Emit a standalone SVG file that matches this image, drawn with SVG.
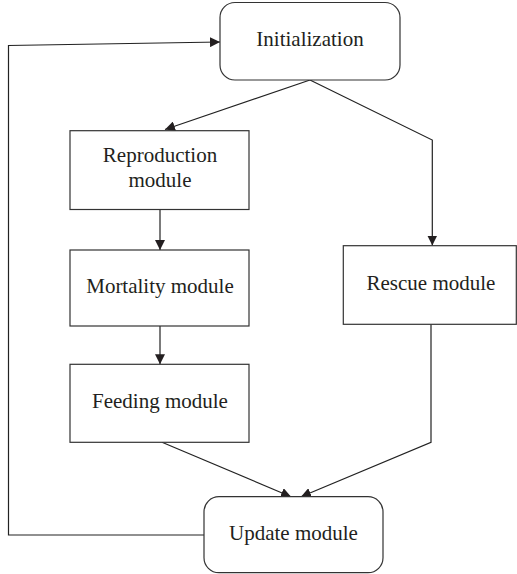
<svg xmlns="http://www.w3.org/2000/svg" width="517" height="574" viewBox="0 0 517 574">
<style>
.box{fill:#fff;stroke:#333;stroke-width:1.2}
.t{font-family:"Liberation Serif",serif;font-size:21px;fill:#231f20;text-anchor:middle}
.c{fill:none;stroke:#222;stroke-width:1.2}
</style>
<defs>
<marker id="ah" viewBox="0 0 10 10" refX="10" refY="5" markerWidth="10" markerHeight="10" markerUnits="userSpaceOnUse" orient="auto">
<path d="M0,0 L10,5 L0,10 Z" fill="#231f20"/>
</marker>
</defs>
<rect width="517" height="574" fill="#fff"/>
<g id="connectors">
<path class="c" d="M204,535 L8.5,535 L8.5,45.5 L220,42" marker-end="url(#ah)"/>
<path class="c" d="M310,80 L165,129.5" marker-end="url(#ah)"/>
<path class="c" d="M310,80 L432.3,140 L432.3,245.5" marker-end="url(#ah)"/>
<path class="c" d="M160,209.5 L160,250" marker-end="url(#ah)"/>
<path class="c" d="M160,326 L160,364.3" marker-end="url(#ah)"/>
<path class="c" d="M162,442.3 L291,496.7" marker-end="url(#ah)"/>
<path class="c" d="M431,324.3 L431,442.3 L301,496.7" marker-end="url(#ah)"/>
</g>
<g id="initialization">
<rect class="box" x="220" y="2.5" width="180" height="77.5" rx="15"/>
<text class="t" x="310" y="46">Initialization</text>
</g>
<g id="reproduction">
<rect class="box" x="70" y="130.7" width="179" height="78.8"/>
<text class="t" x="160" y="162">Reproduction</text>
<text class="t" x="160" y="187">module</text>
</g>
<g id="mortality">
<rect class="box" x="70" y="250" width="179" height="76"/>
<text class="t" x="160" y="293">Mortality module</text>
</g>
<g id="feeding">
<rect class="box" x="70" y="364.3" width="179" height="78"/>
<text class="t" x="160" y="408">Feeding module</text>
</g>
<g id="rescue">
<rect class="box" x="343.3" y="245.7" width="173" height="78.6"/>
<text class="t" x="431" y="289.5">Rescue module</text>
</g>
<g id="update">
<rect class="box" x="204" y="496.7" width="179" height="76" rx="15"/>
<text class="t" x="293.5" y="540">Update module</text>
</g>
</svg>
